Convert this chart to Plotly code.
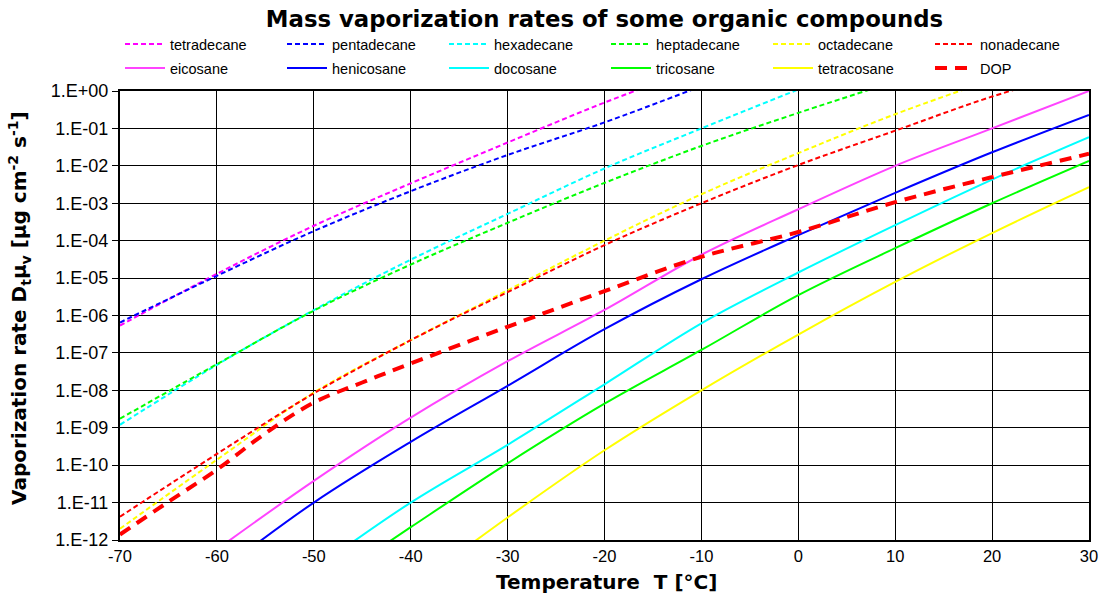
import plotly.graph_objects as go

# Temperature grid [°C]
T = [-70, -60, -50, -40, -30, -20, -10, 0, 10, 20, 30]
T_dop = [-70, -65, -60, -55, -50, -45, -40, -30, -20, -10, 0, 10, 20, 30]

# Vaporization rates [µg cm^-2 s^-1] (None = outside plotted range)
tetradecane = [5.4e-7, 1.3e-5, 2.5e-4, 3.4e-3, 4.2e-2, 4.9e-1, 4.5, None, None, None, None]
pentadecane = [6.5e-7, 1.15e-5, 1.8e-4, 2.1e-3, 1.95e-2, 1.45e-1, 1.35, None, None, None, None]
hexadecane = [1.2e-9, 4.8e-8, 1.4e-6, 3.1e-5, 5.2e-4, 8.5e-3, 1.0e-1, 1.1, None, None, None]
heptadecane = [1.75e-9, 5.0e-8, 1.35e-6, 2.3e-5, 3.0e-4, 3.5e-3, 3.4e-2, 2.6e-1, 1.8, None, None]
octadecane = [2.0e-12, 1.4e-10, 8.7e-9, 2.19e-7, 4.7e-6, 1.0e-4, 1.74e-3, 2.19e-2, 2.4e-1, 2.0, None]
nonadecane = [4.2e-12, 2.0e-10, 8.3e-9, 2.19e-7, 4.2e-6, 7.6e-5, 1.0e-3, 1.05e-2, 8.7e-2, 7.1e-1, 4.0]
eicosane = [None, 5.6e-13, 3.8e-11, 1.86e-9, 6.0e-8, 1.41e-6, 4.2e-5, 6.9e-4, 1.0e-2, 1.0e-1, 1.0]
henicosane = [None, 1.26e-13, 1.0e-11, 4.2e-10, 1.32e-8, 4.3e-7, 9.3e-6, 1.41e-4, 1.9e-3, 2.3e-2, 2.3e-1]
docosane = [None, None, 1.6e-13, 1.0e-11, 3.5e-10, 1.45e-8, 6.2e-7, 1.41e-5, 2.6e-4, 4.3e-3, 5.8e-2]
tricosane = [None, None, 4.0e-14, 2.2e-12, 1.12e-10, 4.4e-9, 1.2e-7, 3.5e-6, 6.3e-5, 1.0e-3, 1.35e-2]
tetracosane = [None, None, None, 5.0e-14, 4.0e-12, 2.5e-10, 1.0e-8, 3.1e-7, 7.9e-6, 1.6e-4, 2.7e-3]
dop = [1.4e-12, 1.05e-11, 7.6e-11, 7.1e-10, 4.7e-9, 1.62e-8, 5.2e-8, 5.0e-7, 4.5e-6, 3.7e-5,
       1.7e-4, 1.07e-3, 5.0e-3, 2.1e-2]

x_ticks = [-70, -60, -50, -40, -30, -20, -10, 0, 10, 20, 30]
y_tickvals = [1e0, 1e-1, 1e-2, 1e-3, 1e-4, 1e-5, 1e-6, 1e-7, 1e-8, 1e-9, 1e-10, 1e-11, 1e-12]
y_ticktext = ["1.E+00", "1.E-01", "1.E-02", "1.E-03", "1.E-04", "1.E-05", "1.E-06",
              "1.E-07", "1.E-08", "1.E-09", "1.E-10", "1.E-11", "1.E-12"]

dashed = [
    ("tetradecane", tetradecane, "#FF00FF"),
    ("pentadecane", pentadecane, "#0000FF"),
    ("hexadecane", hexadecane, "#00FFFF"),
    ("heptadecane", heptadecane, "#00FF00"),
    ("octadecane", octadecane, "#FFFF00"),
    ("nonadecane", nonadecane, "#FF0000"),
]
solid = [
    ("eicosane", eicosane, "#FF44FF"),
    ("henicosane", henicosane, "#0000FF"),
    ("docosane", docosane, "#00FFFF"),
    ("tricosane", tricosane, "#00FF00"),
    ("tetracosane", tetracosane, "#FFFF00"),
]

fig = go.Figure()
for name, vals, col in dashed:
    fig.add_trace(go.Scatter(x=T, y=vals, name=name, mode="lines", legend="legend",
                             line=dict(color=col, width=2, dash="5px,3px", shape="spline")))
for name, vals, col in solid:
    fig.add_trace(go.Scatter(x=T, y=vals, name=name, mode="lines", legend="legend2",
                             line=dict(color=col, width=2, shape="spline")))
fig.add_trace(go.Scatter(x=T_dop, y=dop, name="DOP", mode="lines", legend="legend2",
                         line=dict(color="#FF0000", width=4, dash="12px,8px", shape="spline")))

W, H = 1102, 597
L, R, TOP, BOT = 120, 13, 91, 57
pw = W - L - R
ph = H - TOP - BOT

def py(px):  # pixel y from top -> paper y
    return 1 + (TOP - px) / ph

def pxx(px):
    return (px - L) / pw

legend_common = dict(orientation="h", xanchor="left", yanchor="middle",
                     font=dict(family="Liberation Sans, Arial", size=14.5, color="#000"),
                     entrywidth=107, entrywidthmode="pixels", bgcolor="rgba(0,0,0,0)",
                     tracegroupgap=0, itemwidth=40)

tick_font = dict(family="Liberation Sans, Arial", size=18, color="#000")

fig.update_layout(
    width=W, height=H,
    margin=dict(l=L, r=R, t=TOP, b=BOT, autoexpand=False),
    paper_bgcolor="white", plot_bgcolor="white",
    showlegend=True,
    title=dict(text="<b>Mass vaporization rates of some organic compounds</b>",
               xref="paper", x=0.5, xanchor="center", y=1 - 19 / H, yanchor="middle",
               font=dict(family="DejaVu Sans, Verdana", size=22.8, color="#000")),
    legend=dict(x=pxx(120), y=py(44), **legend_common),
    legend2=dict(x=pxx(120), y=py(68), **legend_common),
    xaxis=dict(range=[-70, 30], tickvals=x_ticks, ticktext=[str(v) for v in x_ticks],
               showgrid=True, gridcolor="#000", gridwidth=1,
               showline=True, linecolor="#000", linewidth=2, mirror=True,
               ticks="", zeroline=False, tickfont=dict(tick_font, size=16.5)),
    yaxis=dict(type="log", range=[-12, 0], tickvals=y_tickvals, ticktext=y_ticktext,
               showgrid=True, gridcolor="#000", gridwidth=1,
               showline=True, linecolor="#000", linewidth=2, mirror=True,
               ticks="outside", ticklen=6, tickcolor="#000", tickwidth=1, zeroline=False,
               tickfont=tick_font),
    annotations=[
        dict(text="<b>Temperature  T [°C]</b>", xref="paper", yref="paper",
             x=pxx(606), y=py(582), xanchor="center", yanchor="middle", showarrow=False,
             font=dict(family="DejaVu Sans, Verdana", size=20, color="#000")),
        dict(text="<b>Vaporization rate D<sub>t</sub>μ<sub>v</sub> [μg cm<sup>-2</sup> s<sup>-1</sup>]</b>",
             xref="paper", yref="paper", x=pxx(19), y=py(308), xanchor="center", yanchor="middle",
             textangle=-90, showarrow=False,
             font=dict(family="DejaVu Sans, Verdana", size=20, color="#000")),
    ],
)

fig.write_html("out.html", config={"displayModeBar": False},
               post_script="document.body.style.margin='0px';document.body.style.overflow='hidden';")
